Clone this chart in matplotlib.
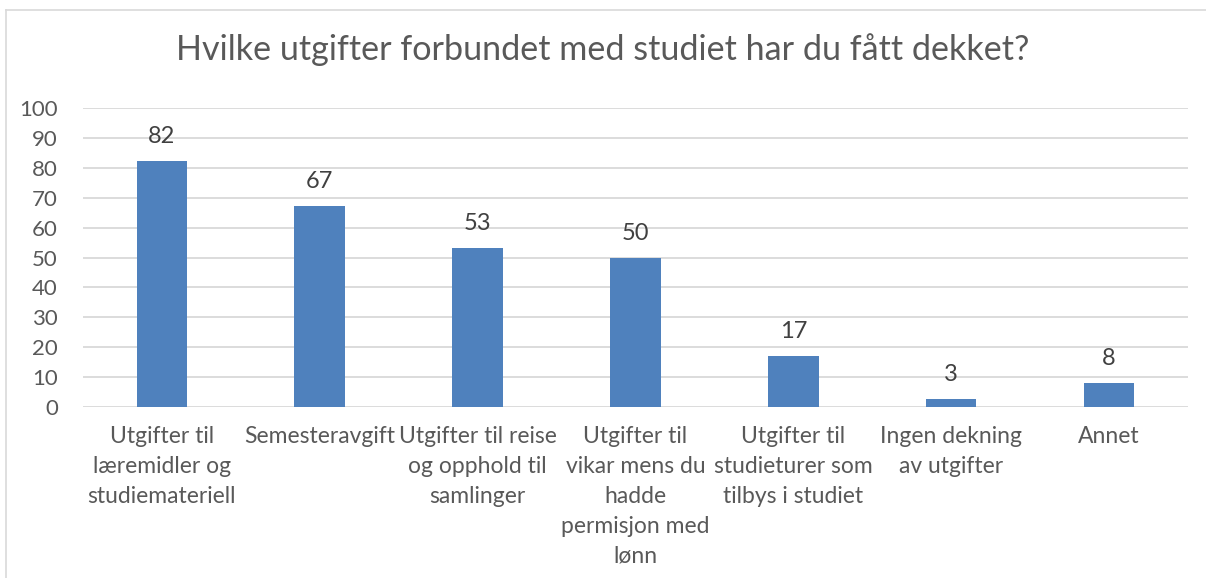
import matplotlib.pyplot as plt
from matplotlib.lines import Line2D

categories = ['Utgifter til\nlæremidler og\nstudiemateriell',
              'Semesteravgift',
              'Utgifter til reise\nog opphold til\nsamlinger',
              'Utgifter til\nvikar mens du\nhadde\npermisjon med\nlønn',
              'Utgifter til\nstudieturer som\ntilbys i studiet',
              'Ingen dekning\nav utgifter',
              'Annet']
values = [82.3, 67.2, 53.2, 49.8, 17.0, 2.7, 8.0]
yticks = [0, 10, 20, 30, 40, 50, 60, 70, 80, 90, 100]

text_color = '#595959'
bar_color = '#4f81bd'
grid_color = '#d9d9d9'

plt.rcParams['font.family'] = ['Lato', 'DejaVu Sans']

fig = plt.figure(figsize=(12.06, 5.78), dpi=100)
ax = fig.add_axes([0.0688, 0.2958, 0.9162, 0.5172])

x = range(len(categories))
ax.bar(x, values, width=0.32, color=bar_color, zorder=3)
for xi, v in zip(x, values):
    ax.annotate('%d' % round(v), (xi, v), xytext=(0, 10),
                textcoords='offset points', ha='center', va='bottom',
                fontsize=17, color='#404040')

ax.set_xlim(-0.5, len(categories) - 0.5)
ax.set_ylim(0, 100)
ax.set_yticks(yticks)
ax.set_xticks(list(x))
ax.set_xticklabels(categories, fontsize=16.5, color=text_color,
                   linespacing=1.52, va='top')
ax.tick_params(axis='y', labelsize=16, colors=text_color, length=0, pad=18)
ax.tick_params(axis='x', length=0, pad=14)
ax.grid(axis='y', color=grid_color, linewidth=1.3, zorder=0)
for s in ax.spines.values():
    s.set_visible(False)

fig.text(0.5, 0.915, 'Hvilke utgifter forbundet med studiet har du fått dekket?',
         ha='center', va='center', fontsize=24.6, color=text_color)

# chart border
fig.add_artist(Line2D([0.005, 1.0], [0.9827, 0.9827], color=grid_color,
                      linewidth=1.2, transform=fig.transFigure))
fig.add_artist(Line2D([0.005, 0.005], [0.0, 0.9827], color=grid_color,
                      linewidth=1.2, transform=fig.transFigure))

fig.savefig('out.png', dpi=100)
